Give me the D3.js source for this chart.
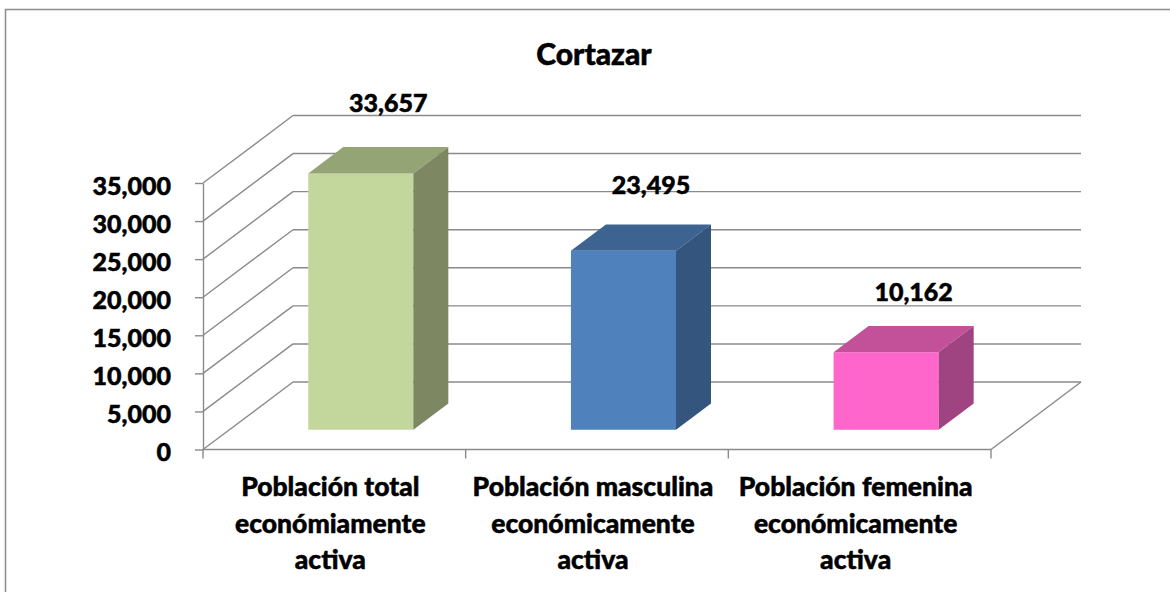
<!DOCTYPE html>
<html>
<head>
<meta charset="utf-8">
<script src="https://cdn.jsdelivr.net/npm/d3@7"></script>
<style>
  html, body { margin: 0; padding: 0; background: #fff; }
  svg { display: block; font-family: Lato, "Open Sans", sans-serif; font-weight: 900; }
  svg text { stroke: #000; stroke-width: 0.5px; }
</style>
</head>
<body>
<div id="chart"></div>
<script>
'use strict';

// chart data
const title = 'Cortazar';
const categories = [
  ['Población total', 'económiamente', 'activa'],
  ['Población masculina', 'económicamente', 'activa'],
  ['Población femenina', 'económicamente', 'activa']
];
const values = [33657, 23495, 10162];
const tickValues = [0, 5000, 10000, 15000, 20000, 25000, 30000, 35000];

// face colours for each bar: front, top, side
const frontColors = ['#c3d69b', '#4f81bd', '#ff66cc'];
const topColors = ['#94a474', '#3d6390', '#c2519a'];
const sideColors = ['#7d8862', '#33557e', '#a04381'];

const width = 1170, height = 592;
const gridColor = '#8a8a8a';

// 3d floor: front left corner, and the depth offset of the back wall
const left = 203, right = 991, floorY = 449.5;
const depthX = 90, depthY = -67.5;
// bar occupies this slice of the depth
const z0 = 0.294, z1 = 0.683;

const svg = d3.select('#chart').append('svg')
  .attr('width', width)
  .attr('height', height);

// outer chart border
svg.append('rect')
  .attr('x', 5.5).attr('y', 9.5)
  .attr('width', width + 20).attr('height', height + 20)
  .attr('fill', 'none')
  .attr('stroke', '#8c8c8c')
  .attr('stroke-width', 1.5);

let yScale = d3.scaleLinear()
  .domain([0, 35000])
  .range([floorY, 183]);

let xScale = d3.scaleBand()
  .domain(d3.range(categories.length))
  .range([left, right])
  .paddingInner(0.6)
  .paddingOuter(0.3);

// project a point (x, y on the front plane) to depth z
const proj = (x, y, z) => [x + z * depthX, y + z * depthY];

let grid = svg.append('g')
  .attr('stroke', gridColor)
  .attr('stroke-width', 1.4)
  .attr('fill', 'none');

// side wall diagonals and back wall gridlines
tickValues.forEach(v => {
  let y = yScale(v);
  let b = proj(left, y, 1);
  grid.append('line')
    .attr('x1', left).attr('y1', y)
    .attr('x2', b[0]).attr('y2', b[1]);
  grid.append('line')
    .attr('x1', b[0]).attr('y1', b[1])
    .attr('x2', right + depthX).attr('y2', b[1]);
});

// floor front edge and right diagonal
let fr = proj(right, floorY, 1);
grid.append('line')
  .attr('x1', left).attr('y1', floorY)
  .attr('x2', right).attr('y2', floorY);
grid.append('line')
  .attr('x1', right).attr('y1', floorY)
  .attr('x2', fr[0]).attr('y2', fr[1]);

// category tick marks under the floor
let step = xScale.step();
d3.range(categories.length + 1).forEach(i => {
  let x = left + i * step;
  grid.append('line')
    .attr('x1', x).attr('y1', floorY)
    .attr('x2', x).attr('y2', floorY + 9);
});

// value axis
svg.append('g')
  .attr('class', 'y axis')
  .attr('transform', 'translate(' + left + ',0)')
  .call(d3.axisLeft(yScale)
    .tickValues(tickValues)
    .tickFormat(d3.format(','))
    .tickSize(8)
    .tickSizeOuter(0)
    .tickPadding(24))
  .call(g => g.selectAll('path, line').attr('stroke', gridColor).attr('stroke-width', 1.4))
  .call(g => g.selectAll('text')
    .attr('font-size', 25)
    .attr('font-family', 'Lato, sans-serif')
    .attr('font-weight', 900)
    .attr('fill', '#000')
    .attr('dy', '0.45em'));

// bars
let bars = svg.append('g');
values.forEach((v, i) => {
  let xa = xScale(i), xb = xa + xScale.bandwidth();
  let yb = floorY, yt = yScale(v);
  let p = (x, y, z) => proj(x, y, z).join(',');
  // front
  bars.append('polygon')
    .attr('points', [p(xa, yb, z0), p(xb, yb, z0), p(xb, yt, z0), p(xa, yt, z0)].join(' '))
    .attr('fill', frontColors[i]);
  // top
  bars.append('polygon')
    .attr('points', [p(xa, yt, z0), p(xb, yt, z0), p(xb, yt, z1), p(xa, yt, z1)].join(' '))
    .attr('fill', topColors[i]);
  // side
  bars.append('polygon')
    .attr('points', [p(xb, yb, z0), p(xb, yb, z1), p(xb, yt, z1), p(xb, yt, z0)].join(' '))
    .attr('fill', sideColors[i]);

  // data label above the bar
  let c = proj(xa + xScale.bandwidth() / 2, yt, 0.6);
  svg.append('text')
    .attr('x', c[0])
    .attr('y', c[1] - 26 - v * 0.00045)
    .attr('text-anchor', 'middle')
    .attr('font-size', 25)
    .text(d3.format(',')(v));
});

// category labels
categories.forEach((lines, i) => {
  let cx = left + (i + 0.5) * step - 4;
  let t = svg.append('text')
    .attr('text-anchor', 'middle')
    .attr('font-size', 26.5);
  lines.forEach((s, j) => {
    t.append('tspan')
      .attr('x', cx)
      .attr('y', 496 + j * 36.7)
      .text(s);
  });
});

// title
svg.append('text')
  .attr('x', 594)
  .attr('y', 65)
  .attr('text-anchor', 'middle')
  .attr('font-size', 30)
  .text(title);
</script>
</body>
</html>
